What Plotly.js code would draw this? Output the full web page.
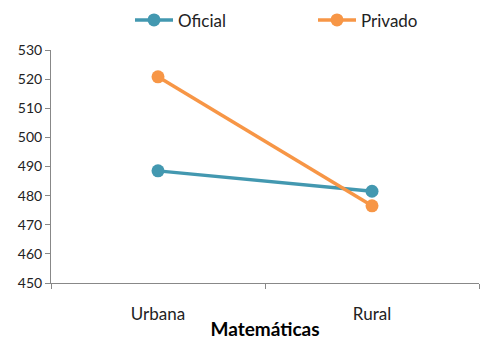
<!DOCTYPE html>
<html>
<head>
<meta charset="utf-8">
<script src="https://cdn.plot.ly/plotly-3.0.1.min.js"></script>
<style>html,body{margin:0;padding:0;background:#fff;}</style>
</head>
<body>
<div id="chart" style="width:481px;height:340px;"></div>
<script>
const categories = ["Urbana", "Rural"];
const oficial = [488.5, 481.5];
const privado = [520.8, 476.5];
const yTicks = [450, 460, 470, 480, 490, 500, 510, 520, 530];

const traces = [
  {x: categories, y: oficial, name: "Oficial", type: "scatter", mode: "lines+markers", legend: "legend",
   line: {color: "#4398B0", width: 3.5}, marker: {color: "#4398B0", size: 13}},
  {x: categories, y: privado, name: "Privado", type: "scatter", mode: "lines+markers", legend: "legend2",
   line: {color: "#F79646", width: 3.5}, marker: {color: "#F79646", size: 13}}
];

const legendBase = {orientation: "h", xref: "container", yref: "container", xanchor: "left",
  y: 0.94, yanchor: "middle", font: {size: 17, color: "#222"}, itemwidth: 38,
  bgcolor: "rgba(0,0,0,0)"};

const layout = {
  width: 481, height: 340,
  margin: {l: 51, r: 2, t: 50, b: 57, autoexpand: false},
  paper_bgcolor: "#fff", plot_bgcolor: "#fff",
  font: {family: "Lato, 'Open Sans', sans-serif", color: "#000"},
  showlegend: true,
  legend: Object.assign({}, legendBase, {x: 130 / 481}),
  legend2: Object.assign({}, legendBase, {x: 313 / 481}),
  xaxis: {type: "category", range: [-0.5, 1.5], showgrid: false, zeroline: false,
          showline: true, linecolor: "#888", linewidth: 1,
          ticks: "outside", tickson: "boundaries", ticklen: 5, tickcolor: "#888",
          tickfont: {size: 17, color: "#222"}, ticklabelstandoff: 16,
          title: {text: "<b>Matemáticas</b>", font: {size: 19, color: "#000"}, standoff: 0}},
  yaxis: {range: [450, 530], tickvals: yTicks, showgrid: false, zeroline: false,
          showline: true, linecolor: "#888", linewidth: 1,
          ticks: "outside", ticklen: 5, tickcolor: "#888",
          tickfont: {size: 14, color: "#222"}}
};

Plotly.newPlot("chart", traces, layout, {displayModeBar: false, staticPlot: true});
</script>
</body>
</html>
